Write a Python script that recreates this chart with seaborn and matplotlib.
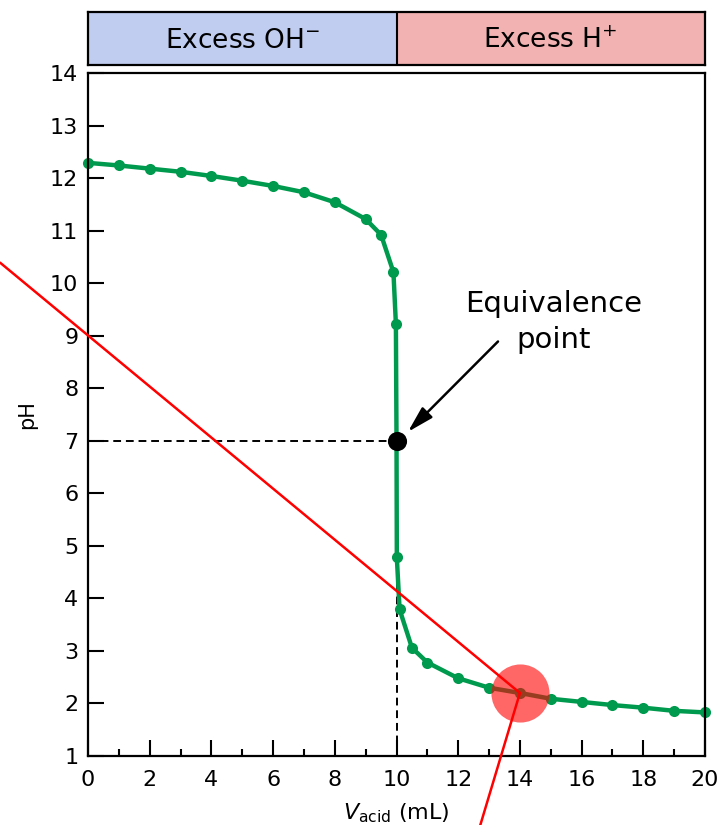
import numpy as np
import pandas as pd
import matplotlib.pyplot as plt
import seaborn as sns

# titration curve
v_acid = [0, 1, 2, 3, 4, 5, 6, 7, 8, 9, 9.5, 9.9, 9.98, 10.0, 10.01, 10.1, 10.5,
          11, 12, 13, 14, 15, 16, 17, 18, 19, 20]
ph = [12.29, 12.24, 12.18, 12.12, 12.04, 11.95, 11.85, 11.73, 11.54, 11.22, 10.92,
      10.21, 9.22, 7.0, 4.78, 3.79, 3.06, 2.78, 2.48, 2.30, 2.20, 2.09, 2.03, 1.97,
      1.92, 1.86, 1.83]

# equivalence point and the highlighted point
eq_v, eq_ph = 10, 7
hl_v, hl_ph = 14, 2.2

# red guide lines
red_x = [-2.85, 14]
red_y = [10.39, 2.2]
ptr_x = [14, 12.57]
ptr_y = [2.2, -0.6]

# region labels
regions = [r"Excess OH$^{-}$", r"Excess H$^{+}$"]
region_edges = [0, 10, 20]
region_colors = ["#c0ccf0", "#f2b2b2"]

green = "#009a4e"

sns.set_style("ticks")
plt.rcParams['font.family'] = ['DejaVu Sans']
plt.rcParams['mathtext.fontset'] = 'dejavusans'
for key in ["text.color", "axes.labelcolor", "xtick.color", "ytick.color"]:
    plt.rcParams[key] = "black"

curve = pd.DataFrame({"v_acid": v_acid, "ph": ph})

fig = plt.figure(figsize=(7.21, 8.25), dpi=100)
ax = fig.add_axes([0.1221, 0.0836, 0.8557, 0.8279])

# dashed guides to the equivalence point
ax.plot([0, eq_v], [eq_ph, eq_ph], color="black", lw=1.4, ls="--", dashes=(4, 2.5), zorder=1)
ax.plot([eq_v, eq_v], [1, eq_ph], color="black", lw=1.4, ls="--", dashes=(4, 2.5), zorder=1)

sns.lineplot(data=curve, x="v_acid", y="ph", ax=ax, color=green, linewidth=3.2,
             marker="o", markersize=8, markeredgewidth=0, clip_on=False, zorder=2)

sns.scatterplot(x=[hl_v], y=[hl_ph], ax=ax, s=1750, color="red", alpha=0.6,
                linewidth=0, zorder=3)
ax.plot(red_x, red_y, color="red", lw=1.8, clip_on=False, zorder=4)
ax.plot(ptr_x, ptr_y, color="red", lw=1.8, clip_on=False, zorder=4)

sns.scatterplot(x=[eq_v], y=[eq_ph], ax=ax, s=190, color="black", linewidth=0, zorder=5)

ax.text(15.1, 9.26, "Equivalence\npoint", ha="center", va="center", fontsize=21,
        linespacing=1.4)
ax.annotate("", xy=(10.37, 7.17), xytext=(13.29, 8.89),
            arrowprops=dict(arrowstyle="-|>,head_length=0.8,head_width=0.22",
                            color="black", lw=1.8, shrinkA=0, shrinkB=0,
                            mutation_scale=20))

ax.set_xlim(0, 20)
ax.set_ylim(1, 14)
ax.set_xticks(range(0, 21, 2))
ax.set_xticks(range(0, 21, 1), minor=True)
ax.set_yticks(range(1, 15))
ax.tick_params(which="major", direction="in", length=11.5, width=1.5, labelsize=16)
ax.tick_params(which="minor", direction="in", length=5, width=1.5)
ax.tick_params(axis="x", pad=10)
ax.tick_params(axis="y", pad=7)
for s in ax.spines.values():
    s.set_linewidth(1.6)
    s.set_color("black")
ax.set_xlabel(r"$V_{\mathrm{acid}}$ (mL)", fontsize=16, labelpad=8)
ax.set_ylabel("pH", fontsize=15, labelpad=9)

# band with excess labels
band = fig.add_axes([0.1221, 0.9212, 0.8557, 0.0642])
for i, lab in enumerate(regions):
    band.axvspan(region_edges[i], region_edges[i + 1], color=region_colors[i])
    band.text((region_edges[i] + region_edges[i + 1]) / 2, 0.45, lab,
              ha="center", va="center", fontsize=19)
band.axvline(10, color="black", lw=1.5)
band.set_xlim(0, 20)
band.set_ylim(0, 1)
band.set_xticks([])
band.set_yticks([])
for s in band.spines.values():
    s.set_linewidth(1.6)
    s.set_color("black")

fig.savefig("out.png", dpi=100)
